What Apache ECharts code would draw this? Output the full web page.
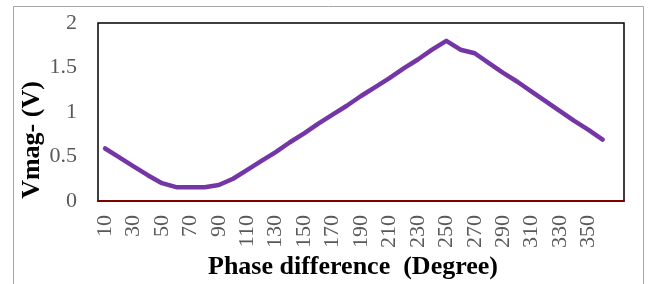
<!DOCTYPE html>
<html>
<head>
<meta charset="utf-8">
<title>Vmag vs phase difference</title>
<script src="https://cdn.jsdelivr.net/npm/echarts@6/dist/echarts.min.js"></script>
<style>
  html, body { margin: 0; padding: 0; background: #fff; }
  #chartLine { width: 651px; height: 284px; }
</style>
</head>
<body>
<div id="chartLine"></div>
<script>
// categories (degrees) - last slot is an empty category, as in the original sheet
const degrees = ['10', '20', '30', '40', '50', '60', '70', '80', '90', '100',
  '110', '120', '130', '140', '150', '160', '170', '180', '190', '200',
  '210', '220', '230', '240', '250', '260', '270', '280', '290', '300',
  '310', '320', '330', '340', '350', '360', ''];

// Vmag- (V)
const vmag = [0.59, 0.49, 0.39, 0.29, 0.20, 0.155, 0.155, 0.155, 0.18, 0.25,
  0.35, 0.45, 0.55, 0.66, 0.76, 0.87, 0.97, 1.07, 1.18, 1.28,
  1.38, 1.49, 1.59, 1.70, 1.80, 1.70, 1.66, 1.55, 1.44, 1.34,
  1.23, 1.12, 1.01, 0.90, 0.80, 0.69];

const yTicks = [0, 0.5, 1, 1.5, 2];

const serif = "'Liberation Serif', 'Times New Roman', serif";

const myChart = echarts.init(document.getElementById('chartLine'));

const option = {
  animation: false,
  grid: {
    left: 98,
    right: 27,
    top: 23,
    bottom: 83,
    show: true,
    borderColor: '#000',
    borderWidth: 1.5
  },
  xAxis: {
    type: 'category',
    data: degrees,
    boundaryGap: true,
    axisTick: { show: false },
    axisLine: {
      show: true,
      lineStyle: { color: '#7f0000', width: 2 }
    },
    axisLabel: {
      interval: 1,
      rotate: 90,
      margin: 14,
      color: '#595959',
      fontFamily: serif,
      fontSize: 22
    },
    splitLine: { show: false }
  },
  yAxis: {
    type: 'value',
    min: yTicks[0],
    max: yTicks[yTicks.length - 1],
    interval: 0.5,
    axisLine: { show: false },
    axisTick: { show: false },
    splitLine: { show: false },
    axisLabel: {
      margin: 21,
      color: '#595959',
      fontFamily: serif,
      fontSize: 22
    }
  },
  series: [{
    type: 'line',
    data: vmag,
    showSymbol: false,
    lineStyle: {
      color: '#7436a6',
      width: 4.5,
      cap: 'round',
      join: 'round'
    }
  }],
  graphic: [
    {
      // outer chart frame
      type: 'rect',
      shape: { x: 13.5, y: 6.5, width: 630, height: 300 },
      style: { fill: 'none', stroke: '#a6a6a6', lineWidth: 1 },
      z: -1
    },
    {
      type: 'text',
      x: 32,
      y: 140,
      rotation: Math.PI / 2,
      style: {
        text: 'Vmag- (V)',
        font: 'bold 26px ' + serif,
        fill: '#000',
        textAlign: 'center',
        textVerticalAlign: 'middle'
      }
    },
    {
      type: 'text',
      x: 353,
      y: 267,
      style: {
        text: 'Phase difference  (Degree)',
        font: 'bold 26px ' + serif,
        fill: '#000',
        textAlign: 'center',
        textVerticalAlign: 'middle'
      }
    }
  ]
};

myChart.setOption(option);
</script>
</body>
</html>
